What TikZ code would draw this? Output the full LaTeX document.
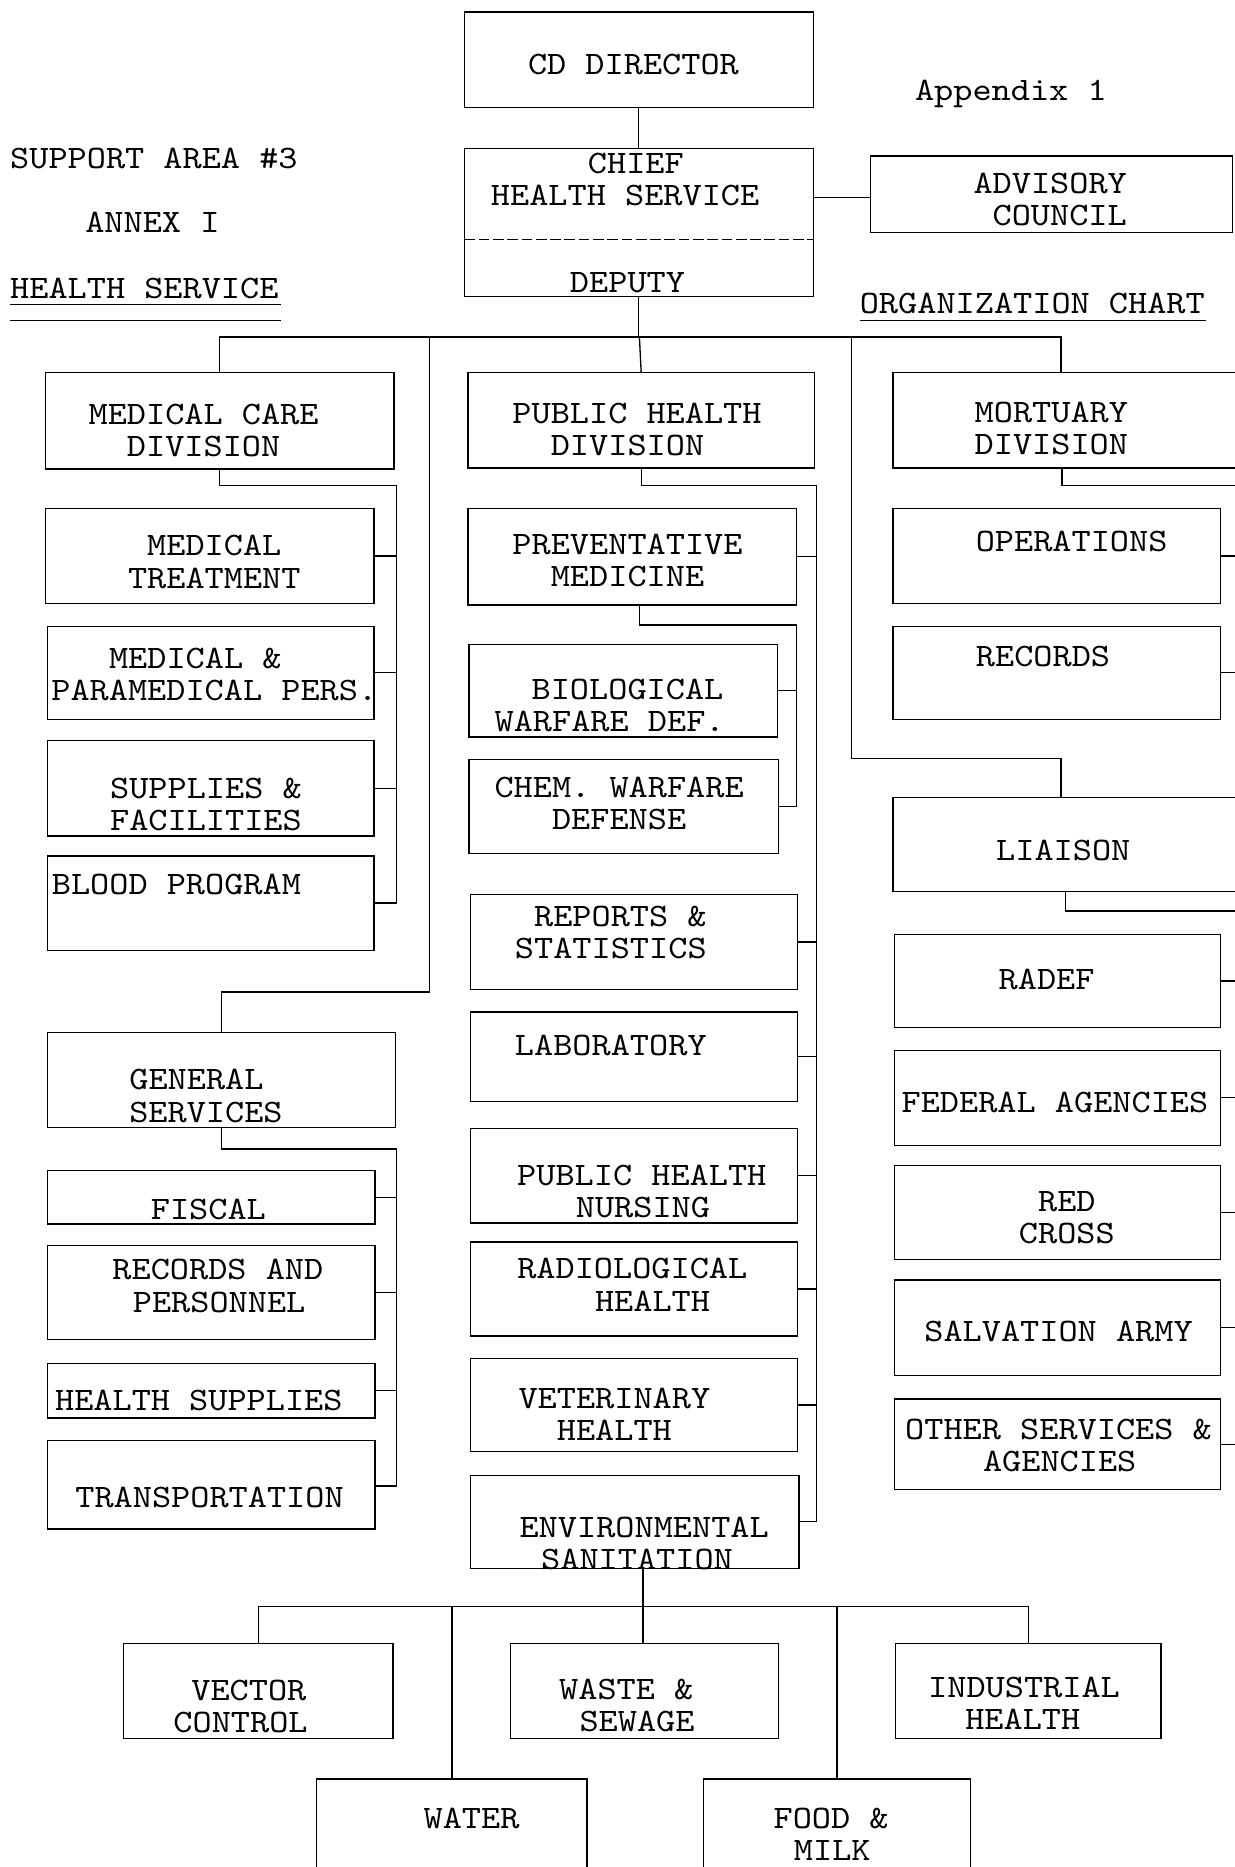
\documentclass[tikz,border=0pt]{standalone}
\usepackage{fontspec}
\setmonofont{lmmono10-regular.otf}[FakeStretch=1.115]
\usetikzlibrary{calc}
% box: name, left, top, right, bottom
\newcommand{\bx}[5]{\node[box, minimum width={(#4-#2)*1pt}, minimum height={(#5-#3)*1pt}] (#1) at ({(#2+#4)/2},{(#3+#5)/2}) {};}
% one-line label: name, x, y, text
\newcommand{\tl}[4]{\node[txt] (#1) at (#2,#3) {#4};}
% two-line label: name, x, y, shift of second line, first line, second line
\newcommand{\tw}[6]{\node[txttwo] (#1) at (#2,#3) {#5\\\kern#4pt#6\kern-#4pt};}
\begin{document}
\begin{tikzpicture}[x=1pt,y=-1pt,
  line width=1.1pt,
  box/.style={draw, rectangle, inner sep=0pt, outer sep=0pt},
  txt/.style={font=\fontsize{27.5}{27}\selectfont\ttfamily, inner sep=0pt, text height=16.8pt, text depth=0pt},
  txttwo/.style={font=\fontsize{27.5}{27}\selectfont\ttfamily, inner sep=0pt, align=center},
  rule/.style={line width=1pt},
]
\useasboundingbox (0,0) rectangle (1037,1568);
\clip (0,0) rectangle (1037,1568);
\fill[white] (0,0) rectangle (1037,1568);

% ---------- headings ----------
\node[txt, anchor=west] (hsa) at (8,133) {SUPPORT AREA \#3};
\tl{hannex}{128}{187}{ANNEX I}
\node[txt, anchor=west] (hhs) at (8,242) {HEALTH SERVICE};
\draw[rule] (8,256) -- (236,256);
\draw[rule] (8,269) -- (236,269);
\tl{happ}{849}{76}{Appendix 1}
\tl{horg}{867}{255}{ORGANIZATION CHART}
\draw[rule] (722,269) -- (1013,269);

% ---------- top of the chart ----------
\bx{dir}{390}{10}{683}{90}
\tl{tdir}{532}{54}{CD DIRECTOR}
\bx{chief}{390}{125}{683}{249}
\coordinate (cdiv) at (0,201);
\draw[dash pattern=on 9pt off 3pt, line width=0.8pt] (chief.west |- cdiv) -- (chief.east |- cdiv);
\tw{tch}{534}{150.5}{-9}{CHIEF}{HEALTH SERVICE}
\tl{tch3}{527}{237}{DEPUTY}
\bx{adv}{731}{131}{1035}{195}
\tw{tadv}{882}{167.5}{8}{ADVISORY}{COUNCIL}

\coordinate (advc) at (0,166);
\draw (dir.south) -- (chief.north);
\draw (advc -| chief.east) -- (advc -| adv.west);

% ---------- division boxes ----------
\bx{mcd}{38}{313}{331}{394}
\tw{tmcd}{171}{361.5}{0}{MEDICAL CARE}{DIVISION}
\bx{phd}{393}{313}{684}{393}
\tw{tphd}{535}{360.5}{-8}{PUBLIC HEALTH}{DIVISION}
\bx{mort}{750}{313}{1045}{393}
\tw{tmort}{883}{359.5}{0}{MORTUARY}{DIVISION}
\bx{gs}{40}{867}{332}{947}
\tw{tgs}{165}{920.5}{8}{GENERAL}{SERVICES}
\bx{lia}{750}{670}{1045}{749}
\tl{tlia}{893}{714}{LIAISON}

% main distribution bus below the deputy
\coordinate (bus) at (537,283);
\coordinate (mdrop) at (891,313);
\coordinate (gsj) at (361,833);
\coordinate (lj) at (715,637);
\coordinate (ldrop) at (891,670);
\draw (chief.south) -- (chief.south |- bus);
\draw (mcd.north) |- (bus) -| (mdrop);
\draw (bus) -- (phd.north);
\draw (gsj |- bus) -- (gsj) -| (gs.north);
\draw (lj |- bus) -- (lj) -| (ldrop);

% ---------- medical care units ----------
\bx{mt}{38}{427}{314}{507}
\tw{tmt}{180}{472}{0}{MEDICAL}{TREATMENT}
\bx{mp}{40}{526}{314}{604}
\tw{tmp}{164}{566.5}{16}{MEDICAL \&}{PARAMEDICAL PERS.}
\bx{sf}{40}{622}{314}{702}
\tw{tsf}{173}{675.5}{0}{SUPPLIES \&}{FACILITIES}
\bx{bp}{40}{719}{314}{798}
\node[txt, anchor=west] (tbp) at (43,743) {BLOOD PROGRAM};

\coordinate (mcv) at (333,408);
\draw (mcd.south) |- (mcv) -- (bp.east -| mcv) -- (bp.east);
\foreach \n in {mt,mp,sf} \draw (\n.east) -- (\n.east -| mcv);

% ---------- general services units ----------
\bx{fis}{40}{983}{315}{1028}
\tl{tfis}{175}{1016}{FISCAL}
\bx{rp}{40}{1046}{315}{1125}
\tw{trp}{183}{1080}{1}{RECORDS AND}{PERSONNEL}
\bx{hs}{40}{1145}{315}{1191}
\tl{ths}{167}{1176}{HEALTH SUPPLIES}
\bx{tr}{40}{1210}{315}{1284}
\tl{ttr}{176}{1258}{TRANSPORTATION}

\coordinate (gsv) at (333,965);
\coordinate (trs) at (0,1248);
\draw (gs.south) |- (gsv) -- (trs -| gsv) -- (trs -| tr.east);
\foreach \n in {fis,rp,hs} \draw (\n.east) -- (\n.east -| gsv);

% ---------- public health units ----------
\bx{pm}{393}{427}{669}{508}
\tw{tpm}{527}{470.5}{0}{PREVENTATIVE}{MEDICINE}
\bx{bio}{394}{541}{653}{619}
\tw{tbio}{527}{592.5}{-15}{BIOLOGICAL}{WARFARE DEF.}
\bx{chem}{394}{638}{654}{717}
\tw{tchem}{520}{674.5}{0}{CHEM. WARFARE}{DEFENSE}
\bx{rs}{395}{751}{670}{831}
\tw{trs}{521}{783}{-8}{REPORTS \&}{STATISTICS}
\bx{lab}{395}{850}{670}{925}
\tl{tlab}{513}{878}{LABORATORY}
\bx{phn}{395}{948}{670}{1027}
\tw{tphn}{539}{1001}{1}{PUBLIC HEALTH}{NURSING}
\bx{rh}{395}{1043}{670}{1122}
\tw{trh}{531}{1079}{17}{RADIOLOGICAL}{HEALTH}
\bx{vh}{395}{1141}{670}{1219}
\tw{tvh}{516}{1188}{0}{VETERINARY}{HEALTH}
\bx{es}{395}{1239}{671}{1317}
\tw{tes}{541}{1296.5}{-6}{ENVIRONMENTAL}{SANITATION}

\coordinate (phv) at (686,408);
\draw (phd.south) |- (phv) -- (es.east -| phv) -- (es.east);
\foreach \n in {pm,rs,lab,phn,rh,vh} \draw (\n.east) -- (\n.east -| phv);

\coordinate (pmv) at (669,525);
\coordinate (pmd) at (537,525);
\draw (pmd |- pm.south) -- (pmd) -- (pmv) -- (chem.east -| pmv) -- (chem.east);
\draw (bio.east) -- (bio.east -| pmv);

% ---------- mortuary units ----------
\bx{ops}{750}{427}{1025}{507}
\tl{tops}{900}{455}{OPERATIONS}
\bx{rec}{750}{526}{1025}{604}
\tl{trec}{876}{551}{RECORDS}

\coordinate (mv) at (1042,408);
\coordinate (mvd) at (892,408);
\draw (mvd |- mort.south) -- (mvd) -- (mv) -- (rec.east -| mv);
\foreach \n in {ops,rec} \draw (\n.east) -- (\n.east -| mv);

% ---------- liaison units ----------
\bx{radef}{751}{785}{1025}{863}
\tl{tradef}{879}{823}{RADEF}
\bx{fed}{751}{882}{1025}{962}
\tl{tfed}{886}{926}{FEDERAL AGENCIES}
\bx{rc}{751}{979}{1025}{1058}
\tw{trc}{896}{1022.5}{0}{RED}{CROSS}
\bx{sa}{751}{1075}{1025}{1155}
\tl{tsa}{889}{1118}{SALVATION ARMY}
\bx{osa}{751}{1175}{1025}{1251}
\tw{tosa}{889}{1214}{1}{OTHER SERVICES \&}{AGENCIES}

\coordinate (lv) at (1042,765);
\coordinate (lvd) at (895,765);
\draw (lvd |- lia.south) -- (lvd) -- (lv) -- (osa.east -| lv);
\foreach \n in {radef,fed,rc,sa,osa} \draw (\n.east) -- (\n.east -| lv);

% ---------- environmental sanitation units ----------
\bx{vc}{104}{1380}{330}{1460}
\tw{tvc}{209}{1433.5}{-7}{VECTOR}{CONTROL}
\bx{ws}{429}{1380}{654}{1460}
\tw{tws}{526}{1432.5}{9}{WASTE \&}{SEWAGE}
\bx{ih}{752}{1380}{975}{1460}
\tw{tih}{860}{1430.5}{-1}{INDUSTRIAL}{HEALTH}
\bx{wat}{266}{1494}{493}{1585}
\tl{twat}{396}{1527}{WATER}
\bx{fm}{591}{1494}{815}{1585}
\tw{tfm}{698}{1540.5}{1}{FOOD \&}{MILK}

\coordinate (eb) at (540,1349);
\draw (eb |- es.south) -- (eb);
\draw (vc.north) |- (eb) -| (ih.north);
\draw (eb) -- (eb |- ws.north);
\draw (wat.north) -- (wat.north |- eb);
\draw (fm.north) -- (fm.north |- eb);
\end{tikzpicture}
\end{document}
